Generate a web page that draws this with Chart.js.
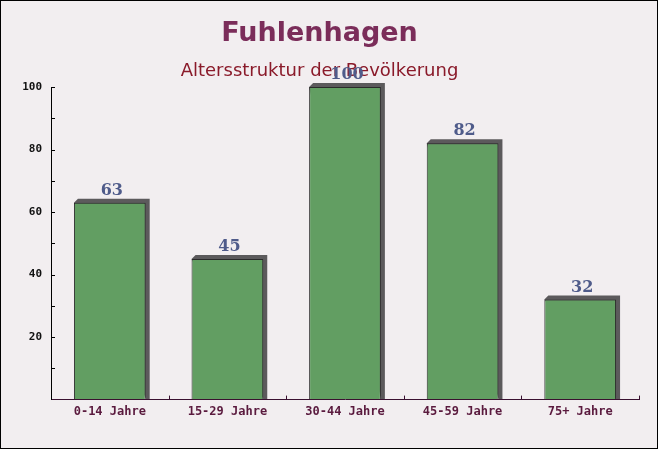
<!DOCTYPE html>
<html><head><meta charset="utf-8">
<script src="https://cdn.jsdelivr.net/npm/chart.js@4/dist/chart.umd.min.js"></script>
<style>html,body{margin:0;padding:0;background:#fff}canvas{display:block}</style>
</head><body>
<canvas id="c" width="658" height="449"></canvas>
<script>
const categories = ["0-14 Jahre", "15-29 Jahre", "30-44 Jahre", "45-59 Jahre", "75+ Jahre"];
const values = [63, 45, 100, 82, 32];
const yTickLabels = [20, 40, 60, 80, 100];
const titleText = "Fuhlenhagen";
const subtitleText = "Altersstruktur der Bevölkerung";

const bgPlugin = {
  id: 'bg',
  beforeDraw(chart) {
    const ctx = chart.ctx;
    ctx.save();
    ctx.fillStyle = '#f2eef0';
    ctx.fillRect(0, 0, chart.width, chart.height);
    ctx.restore();
  },
  afterDraw(chart) {
    const ctx = chart.ctx;
    ctx.save();
    ctx.strokeStyle = '#000';
    ctx.lineWidth = 1;
    ctx.strokeRect(0.5, 0.5, chart.width - 1, chart.height - 1);
    ctx.restore();
  }
};

const shadowPlugin = {
  id: 'shadow',
  beforeDatasetsDraw(chart) {
    const ctx = chart.ctx;
    const meta = chart.getDatasetMeta(0);
    ctx.save();
    meta.data.forEach(bar => {
      const w = bar.width;
      const l = bar.x - w / 2, r = bar.x + w / 2;
      const t = bar.y, b = bar.base;
      ctx.fillStyle = '#5c5a5c';
      ctx.beginPath();
      ctx.moveTo(l, t);
      ctx.lineTo(l + 4, t - 4);
      ctx.lineTo(r + 4, t - 4);
      ctx.lineTo(r + 4, b);
      ctx.lineTo(r, b);
      ctx.closePath();
      ctx.fill();
    });
    ctx.restore();
  },
  afterDatasetsDraw(chart) {
    const ctx = chart.ctx;
    const meta = chart.getDatasetMeta(0);
    const area = chart.chartArea;
    ctx.save();
    ctx.font = 'bold 16px "DejaVu Serif", serif';
    ctx.fillStyle = '#4f5b8a';
    ctx.textAlign = 'center';
    ctx.textBaseline = 'bottom';
    meta.data.forEach((bar, i) => {
      ctx.fillText(String(values[i]), bar.x + 2, bar.y - 4);
    });
    // x axis upward ticks at category boundaries
    const xs = chart.scales.x;
    ctx.strokeStyle = '#3a1030';
    ctx.lineWidth = 1;
    for (let i = 1; i <= categories.length; i++) {
      const x = Math.round(xs.getPixelForValue(i - 0.5)) + 0.5;
      ctx.beginPath();
      ctx.moveTo(x, area.bottom);
      ctx.lineTo(x, area.bottom - 4);
      ctx.stroke();
    }
    // y axis inward ticks every 10
    const ys = chart.scales.y;
    ctx.strokeStyle = '#000';
    for (let v = 10; v <= 100; v += 10) {
      const y = Math.round(ys.getPixelForValue(v)) + 0.5;
      ctx.beginPath();
      ctx.moveTo(area.left, y);
      ctx.lineTo(area.left + 4, y);
      ctx.stroke();
    }
    ctx.restore();
  }
};

new Chart(document.getElementById('c'), {
  type: 'bar',
  data: {
    labels: categories,
    datasets: [{
      data: values,
      backgroundColor: 'rgba(98,158,98,1)',
      borderColor: '#2a2a2a',
      borderWidth: 1,
      categoryPercentage: 0.61,
      barPercentage: 1.0
    }]
  },
  options: {
    responsive: false,
    animation: false,
    devicePixelRatio: 1,
    layout: { padding: { left: 0, right: 19, top: 0, bottom: 25 } },
    plugins: {
      legend: { display: false },
      tooltip: { enabled: false },
      title: {
        display: true,
        text: titleText,
        color: '#7b2d5a',
        font: { family: '"DejaVu Sans", Verdana, sans-serif', size: 27, weight: 'bold' },
        padding: { top: 18, bottom: 6 }
      },
      subtitle: {
        display: true,
        text: subtitleText,
        color: '#8a1a2a',
        font: { family: '"DejaVu Sans", sans-serif', size: 18, weight: 'normal' },
        padding: { top: 4, bottom: 5 }
      }
    },
    scales: {
      x: {
        offset: true,
        grid: { display: false, drawTicks: false },
        border: { display: true, color: '#3a1030', width: 1 },
        ticks: {
          color: '#5a1a3e',
          font: { family: '"DejaVu Sans Mono", monospace', size: 12, weight: 'bold' },
          padding: 5,
          maxRotation: 0
        }
      },
      y: {
        min: 0, max: 100,
        afterFit(scale) { scale.width = 51; },
        grid: { drawOnChartArea: false, drawTicks: false },
        border: { display: true, color: '#000', width: 1 },
        ticks: {
          stepSize: 10,
          color: '#111',
          padding: 9,
          font: { family: '"DejaVu Sans Mono", monospace', size: 11, weight: 'bold' },
          callback: (v) => yTickLabels.includes(v) ? String(v) : ''
        }
      }
    }
  },
  plugins: [bgPlugin, shadowPlugin]
});
</script>
</body></html>
